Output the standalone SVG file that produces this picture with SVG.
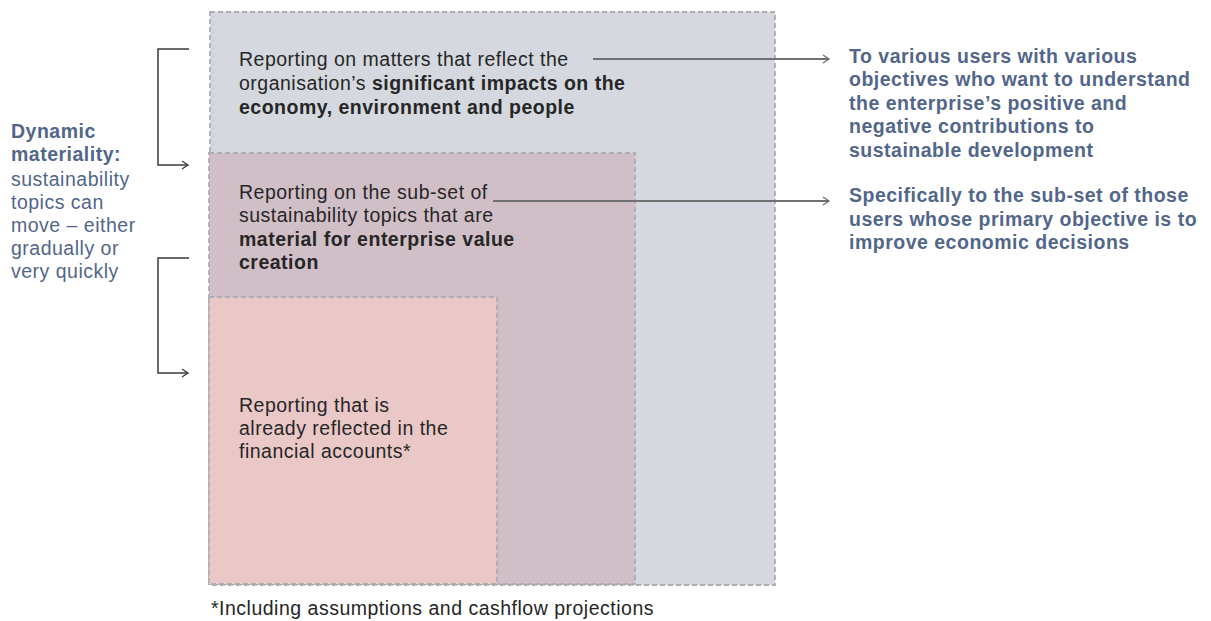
<svg xmlns="http://www.w3.org/2000/svg" width="1211" height="621" viewBox="0 0 1211 621">
<style>
text{font-family:"Liberation Sans",Arial,sans-serif;font-size:19.5px;letter-spacing:0.5px}
.dk{fill:#262626}
.b{font-weight:bold}
.bl{fill:#52668a}
.box{stroke:#adadb3;stroke-width:1.8;stroke-dasharray:5 3}
.conn{fill:none;stroke:#707070;stroke-width:2}
.brk{fill:none;stroke:#3a3a3a;stroke-width:1.5}
</style>
<defs>
<marker id="ah" markerWidth="10" markerHeight="10" refX="8" refY="5" orient="auto" markerUnits="userSpaceOnUse">
<path d="M2,1 L8,5 L2,9" fill="none" stroke="#707070" stroke-width="1.3"/>
</marker>
<marker id="ahk" markerWidth="10" markerHeight="10" refX="8" refY="5" orient="auto" markerUnits="userSpaceOnUse">
<path d="M2,1 L8,5 L2,9" fill="none" stroke="#3a3a3a" stroke-width="1.3"/>
</marker>
</defs>
<g id="outer">
<rect class="box" x="210" y="12" width="565" height="573" fill="#d5d8df"/>
<text class="dk" x="239" y="66">Reporting on matters that reflect the</text>
<text class="dk" x="239" y="90">organisation’s <tspan class="b">significant impacts on the</tspan></text>
<text class="dk b" x="239" y="114">economy, environment and people</text>
</g>
<g id="middle">
<rect class="box" x="209" y="153" width="426" height="431" fill="#d1bfc7"/>
<text class="dk" x="239" y="199">Reporting on the sub-set of</text>
<text class="dk" x="239" y="222">sustainability topics that are</text>
<text class="dk b" x="239" y="246">material for enterprise value</text>
<text class="dk b" x="239" y="269">creation</text>
</g>
<g id="inner">
<rect class="box" x="209" y="297" width="288" height="287" fill="#ebc8c8"/>
<text class="dk" x="239" y="412">Reporting that is</text>
<text class="dk" x="239" y="435">already reflected in the</text>
<text class="dk" x="239" y="458">financial accounts*</text>
</g>
<g id="users-all">
<text class="bl b" x="849" y="63">To various users with various</text>
<text class="bl b" x="849" y="86">objectives who want to understand</text>
<text class="bl b" x="849" y="110">the enterprise’s positive and</text>
<text class="bl b" x="849" y="133">negative contributions to</text>
<text class="bl b" x="849" y="157">sustainable development</text>
</g>
<g id="users-subset">
<text class="bl b" x="849" y="202">Specifically to the sub-set of those</text>
<text class="bl b" x="849" y="226">users whose primary objective is to</text>
<text class="bl b" x="849" y="249">improve economic decisions</text>
</g>
<g id="dynamic">
<text class="bl b" x="11" y="138">Dynamic</text>
<text class="bl b" x="11" y="161">materiality:</text>
<text class="bl" x="11" y="186">sustainability</text>
<text class="bl" x="11" y="209">topics can</text>
<text class="bl" x="11" y="232">move – either</text>
<text class="bl" x="11" y="255">gradually or</text>
<text class="bl" x="11" y="278">very quickly</text>
</g>
<g id="footnote">
<text class="dk" x="211" y="615">*Including assumptions and cashflow projections</text>
</g>
<g id="connectors">
<line class="conn" x1="593" y1="59" x2="829" y2="59" marker-end="url(#ah)"/>
<line class="conn" x1="493" y1="201" x2="829" y2="201" marker-end="url(#ah)"/>
<path class="brk" d="M189,49 H158 V165 H188" marker-end="url(#ahk)"/>
<path class="brk" d="M189,258 H158 V373 H188" marker-end="url(#ahk)"/>
</g>
</svg>
